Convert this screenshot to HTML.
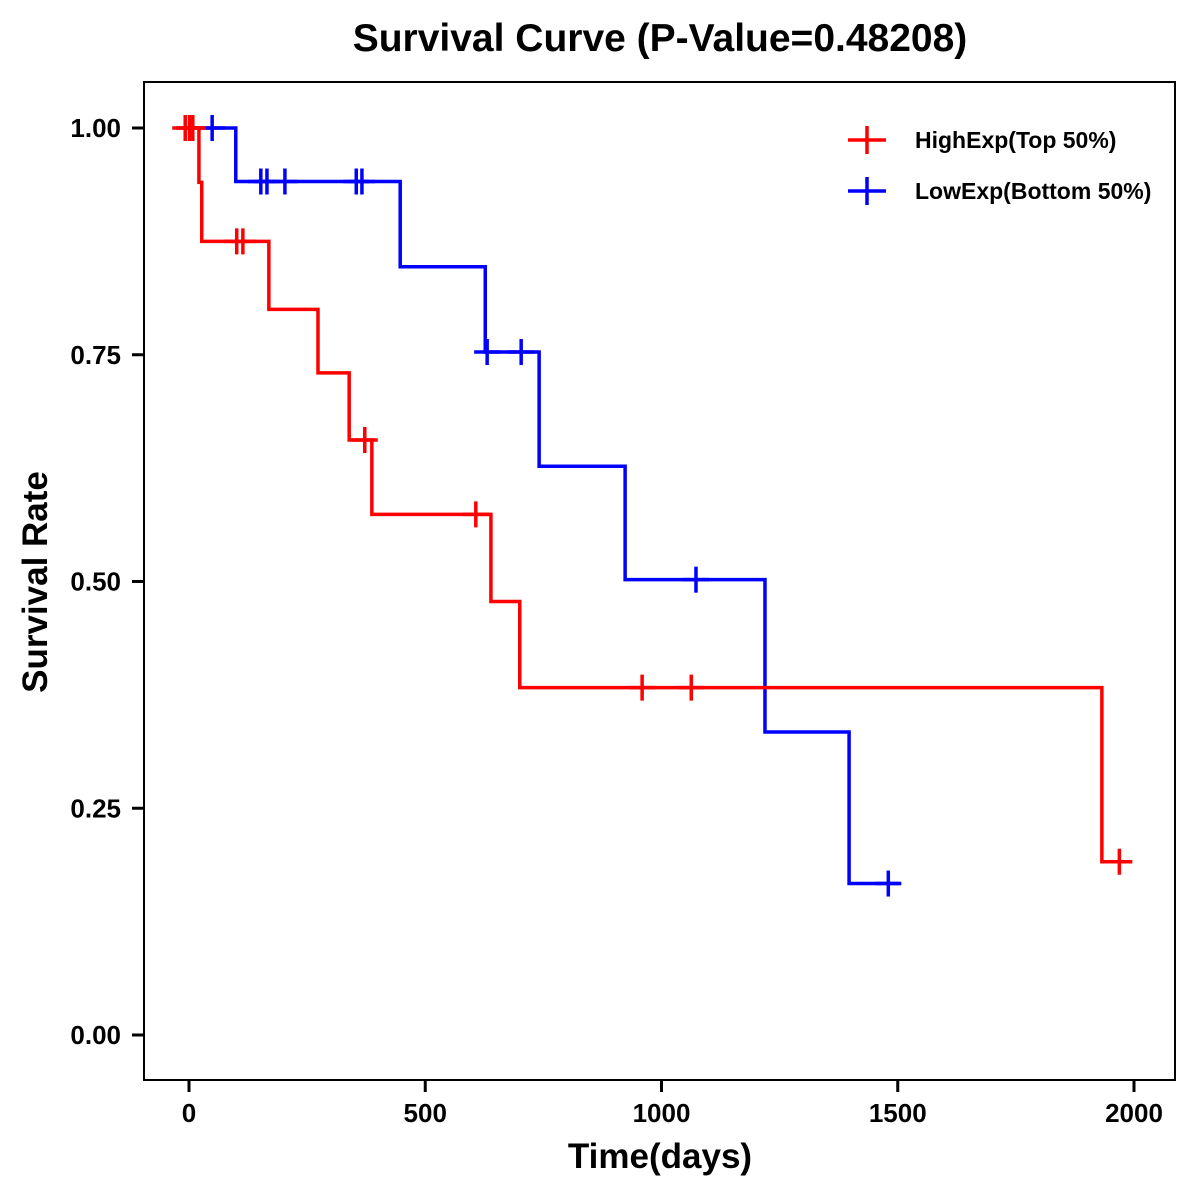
<!DOCTYPE html>
<html><head><meta charset="utf-8"><style>
html,body{margin:0;padding:0;background:#fff;}
svg{display:block;font-family:"Liberation Sans",Arial,sans-serif;}
</style></head><body>
<svg id="chart" width="1200" height="1200" viewBox="0 0 1200 1200">
<rect width="1200" height="1200" fill="#fff"/>
<text x="660" y="51" text-anchor="middle" font-size="39" font-weight="bold">Survival Curve (P-Value=0.48208)</text>
<g id="axes"></g>
<g id="series"></g>
<text x="660" y="1168" text-anchor="middle" font-size="35" font-weight="bold">Time(days)</text>
<text transform="translate(47,582) rotate(-90)" text-anchor="middle" font-size="35" font-weight="bold">Survival Rate</text>
<g>
<g>
<line x1="848" y1="140" x2="886" y2="140" stroke="#ff0000" stroke-width="3.5"/>
<line x1="867" y1="126" x2="867" y2="154" stroke="#ff0000" stroke-width="3.5"/>
<text x="915" y="148" font-size="23" font-weight="bold">HighExp(Top 50%)</text>
</g>
<g>
<line x1="848" y1="191" x2="886" y2="191" stroke="#0000ff" stroke-width="3.5"/>
<line x1="867" y1="177" x2="867" y2="205" stroke="#0000ff" stroke-width="3.5"/>
<text x="915" y="199" font-size="23" font-weight="bold">LowExp(Bottom 50%)</text>
</g>
</g>
</svg>
<script>
const xTicks=[0,500,1000,1500,2000];
const yTicks=[0,0.25,0.5,0.75,1.0];
const yTickLabels=["0.00","0.25","0.50","0.75","1.00"];
const highStepTimes=[21,27,169,273,339,387,639,700,1932];
const highStepSurv=[0.94,0.875,0.80,0.73,0.656,0.574,0.478,0.383,0.191];
const highEnd=1992;
const highCensorTimes=[-8,1,8,101,114,372,607,959,1063,1969];
const highCensorSurv=[1,1,1,0.875,0.875,0.656,0.574,0.383,0.383,0.191];
const lowStepTimes=[99,447,627,741,923,1219,1397];
const lowStepSurv=[0.941,0.847,0.753,0.627,0.502,0.334,0.167];
const lowEnd=1505;
const lowCensorTimes=[49,152,165,203,354,366,631,703,1073,1480];
const lowCensorSurv=[1,0.941,0.941,0.941,0.941,0.941,0.753,0.753,0.502,0.167];

const NS="http://www.w3.org/2000/svg";
const X=d=>189+d*(1134-189)/2000;
const Y=s=>1035-s*(1035-128);
const L={x:144,r:1175,t:82,b:1080};
function mk(tag,attrs,parent){const e=document.createElementNS(NS,tag);for(const k in attrs)e.setAttribute(k,attrs[k]);parent.appendChild(e);return e;}
const axes=document.getElementById('axes');
const box=mk('rect',{x:L.x,y:L.t,width:L.r-L.x,height:L.b-L.t,fill:'none',stroke:'#000','stroke-width':2},axes);


xTicks.forEach(t=>{
  const g=mk('g',{},axes);
  
  
  mk('line',{x1:X(t),x2:X(t),y1:L.b,y2:L.b+12,stroke:'#000','stroke-width':3},g);
  const tx=mk('text',{x:X(t),y:1122,'text-anchor':'middle','font-size':26,'font-weight':'bold'},g);
  tx.textContent=String(t);
});
yTicks.forEach((t,i)=>{
  const g=mk('g',{},axes);
  
  
  mk('line',{x1:L.x-12,x2:L.x,y1:Y(t),y2:Y(t),stroke:'#000','stroke-width':3},g);
  const tx=mk('text',{x:L.x-23,y:Y(t)+9,'text-anchor':'end','font-size':26,'font-weight':'bold'},g);
  tx.textContent=yTickLabels[i];
});
const series=document.getElementById('series');
function drawCurve(name,color,times,surv,end,ct,cs){
  const g=mk('g',{},series);
  
  
  let d='M'+X(0)+','+Y(1);
  times.forEach((t,i)=>{d+=' H'+X(t)+' V'+Y(surv[i]);});
  d+=' H'+X(end);
  const p=mk('path',{d:d,fill:'none',stroke:color,'stroke-width':3.5},g);
  
  
  ct.forEach((t,i)=>{
    const c=mk('g',{},g);
    
    
    mk('line',{x1:X(t)-13,x2:X(t)+13,y1:Y(cs[i]),y2:Y(cs[i]),stroke:color,'stroke-width':3.5},c);
    mk('line',{x1:X(t),x2:X(t),y1:Y(cs[i])-13,y2:Y(cs[i])+13,stroke:color,'stroke-width':3.5},c);
  });
}
drawCurve('low-exp-curve','#0000ff',lowStepTimes,lowStepSurv,lowEnd,lowCensorTimes,lowCensorSurv);
drawCurve('high-exp-curve','#ff0000',highStepTimes,highStepSurv,highEnd,highCensorTimes,highCensorSurv);
</script>
</body></html>
